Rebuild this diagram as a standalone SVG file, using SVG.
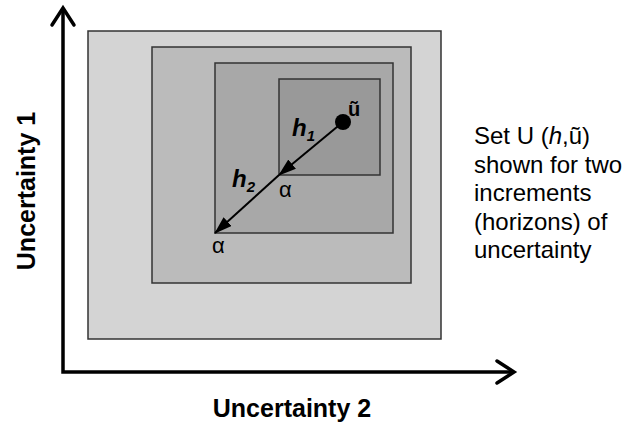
<svg xmlns="http://www.w3.org/2000/svg" width="634" height="427" viewBox="0 0 634 427">
<style>
.box{stroke:#333;stroke-width:1.5}
.axis{fill:none;stroke:#000;stroke-width:3.5;stroke-linecap:butt}
.head{fill:none;stroke:#000;stroke-width:3.5;stroke-linecap:round;stroke-linejoin:miter}
.t{font-family:"Liberation Sans",Arial,sans-serif;fill:#000}
.b{font-weight:bold}
</style>
<defs>
<marker id="tri" viewBox="0 0 18 12" refX="17" refY="6" markerWidth="18" markerHeight="12" markerUnits="userSpaceOnUse" orient="auto">
<path d="M0,0 L18,6 L0,12 Z" fill="#000"/>
</marker>
</defs>
<rect width="634" height="427" fill="#fff"/>
<g id="set-outer"><rect class="box" x="88" y="31" width="353" height="308" fill="#d4d4d4"/></g>
<g id="set-2"><rect class="box" x="152" y="47" width="259" height="236" fill="#bbbbbb"/></g>
<g id="set-3"><rect class="box" x="215" y="63" width="178" height="170" fill="#a8a8a8"/></g>
<g id="set-4"><rect class="box" x="279" y="79" width="101" height="96" fill="#999999"/></g>
<g id="axes">
<path class="axis" d="M63,10 L63,372 L512,372"/>
<path class="head" d="M52,25 L63,8 L74,25"/>
<path class="head" d="M497,361 L514,372 L497,383"/>
</g>
<g id="connectors">
<line x1="343" y1="122" x2="279" y2="175" stroke="#000" stroke-width="2" marker-end="url(#tri)"/>
<line x1="279" y1="175" x2="215" y2="233" stroke="#000" stroke-width="2" marker-end="url(#tri)"/>
</g>
<g id="u-tilde">
<circle cx="343" cy="122" r="8" fill="#000"/>
<text class="t b" x="348" y="116" font-size="20">ũ</text>
</g>
<g id="labels">
<text class="t b" x="292" y="136" font-size="24" font-style="italic">h<tspan font-size="15" dy="5">1</tspan></text>
<text class="t b" x="232" y="187" font-size="24" font-style="italic">h<tspan font-size="15" dy="5">2</tspan></text>
<text class="t" x="279" y="197" font-size="22">α</text>
<text class="t" x="212" y="253" font-size="22">α</text>
</g>
<g id="axis-labels">
<text class="t b" x="292" y="417" font-size="25" text-anchor="middle">Uncertainty 2</text>
<text class="t b" font-size="25" text-anchor="middle" transform="translate(35,191) rotate(-90)">Uncertainty 1</text>
</g>
<g id="caption">
<text class="t" font-size="24" x="474">
<tspan x="474" y="144">Set U (<tspan font-style="italic">h</tspan>,ũ)</tspan>
<tspan x="474" y="172.5">shown for two</tspan>
<tspan x="474" y="201">increments</tspan>
<tspan x="474" y="229.5">(horizons) of</tspan>
<tspan x="474" y="258">uncertainty</tspan>
</text>
</g>
</svg>
